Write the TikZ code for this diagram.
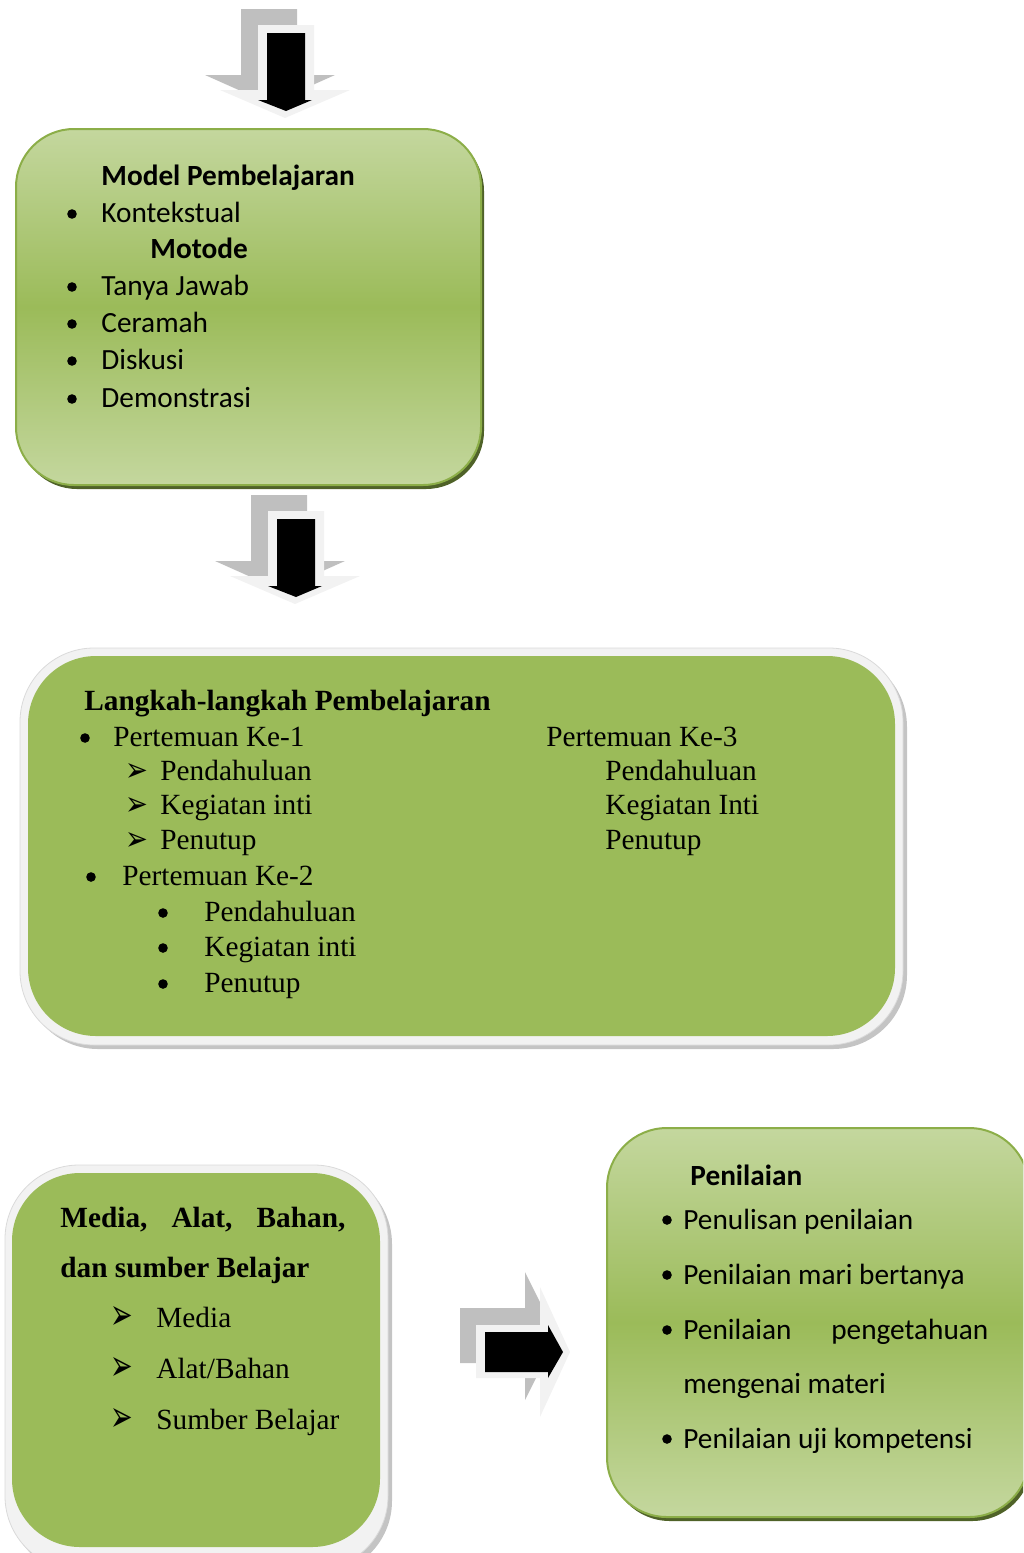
\documentclass[tikz,border=0pt]{standalone}
\usepackage{fontspec}
\setmainfont{Liberation Serif}
\newfontfamily\calibri{Carlito}
\newfontfamily\dejavu{DejaVu Sans}
\definecolor{gdark}{HTML}{9BBB59}
\definecolor{glight}{HTML}{C4D79E}
\definecolor{gedge}{HTML}{8CAE48}
\definecolor{gshadow}{HTML}{4F6228}
\definecolor{framefill}{HTML}{F2F2F2}
\definecolor{frameedge}{HTML}{DADADA}
\definecolor{fshadow}{HTML}{C4C4C4}
\definecolor{arrgray}{HTML}{BFBFBF}
\definecolor{arrwhite}{HTML}{F2F2F2}
\newcommand{\wingarrow}{\raisebox{0pt}[9pt][0pt]{\scalebox{1}[1.6]{➢}}}
\newcommand{\wingarrowS}{\raisebox{0pt}[8pt][0pt]{\scalebox{1.05}[1.3]{➢}}}
\begin{document}
\begin{tikzpicture}[x=0.5pt,y=-0.5pt,
  cal/.style={anchor=base west,inner sep=0pt,font=\calibri\fontsize{14.65pt}{17pt}\selectfont},
  calb/.style={anchor=base west,inner sep=0pt,font=\calibri\bfseries\fontsize{14.65pt}{17pt}\selectfont},
  tms/.style={anchor=base west,inner sep=0pt,font=\fontsize{14.65pt}{17pt}\selectfont},
  tmsb/.style={anchor=base west,inner sep=0pt,font=\bfseries\fontsize{14.65pt}{17pt}\selectfont},
  bulletdot/.style={circle,fill=black,inner sep=0pt,minimum size=4.8pt},
  arrhead/.style={anchor=base west,inner sep=0pt,font=\dejavu\fontsize{13.5pt}{16pt}\selectfont},
  arrheadS/.style={anchor=base west,inner sep=0pt,font=\dejavu\fontsize{13pt}{15pt}\selectfont},
  greenbox/.style={draw=gedge,line width=1pt,top color=glight,bottom color=glight,middle color=gdark},
  downarrow/.pic={
    \fill[arrgray] (241,9) -- (297,9) -- (297,75) -- (335,75) -- (270,104) -- (205,75) -- (241,75) -- cycle;
    \fill[arrwhite] (258,25) -- (314,25) -- (314,90) -- (350,90) -- (285,118) -- (220,90) -- (258,90) -- cycle;
    \fill[black] (267,33) -- (305,33) -- (305,100) -- (312,100) -- (286,111) -- (258,100) -- (267,100) -- cycle;
  }]
\useasboundingbox (0,0) rectangle (1023,1553);
\clip (0,0) rectangle (1023,1553);

% ---------- arrows ----------
\pic (arrowA) at (0,0) {downarrow};
\pic (arrowB) at (10,486) {downarrow};
\fill[arrgray] (460,1308) -- (525,1308) -- (525,1272) -- (557,1336) -- (525,1400) -- (525,1363) -- (460,1363) -- cycle;
\fill[arrwhite] (476,1325) -- (540,1325) -- (540,1287) -- (570,1352) -- (540,1417) -- (540,1378) -- (476,1378) -- cycle;
\fill[black] (485,1332) -- (548,1332) -- (548,1325) -- (563,1352) -- (548,1378) -- (548,1372) -- (485,1372) -- cycle;

% ---------- box 1 ----------
\fill[gshadow,rounded corners=29pt] (19,133) rectangle (484,489);
\path[greenbox,rounded corners=29pt] (16,129) rectangle (481,485);
\node[calb] (mp) at (101,185) {Model Pembelajaran};
\node[bulletdot] (b1a) at (72,214) {};
\node[cal] (t1a) at (101,222) {Kontekstual};
\node[calb] (mo) at (150,258) {Motode};
\node[bulletdot] (b1b) at (72,287) {};
\node[cal] (t1b) at (101,295) {Tanya Jawab};
\node[bulletdot] (b1c) at (72,324) {};
\node[cal] (t1c) at (101,332) {Ceramah};
\node[bulletdot] (b1d) at (72,361) {};
\node[cal] (t1d) at (101,369) {Diskusi};
\node[bulletdot] (b1e) at (72,399) {};
\node[cal] (t1e) at (101,407) {Demonstrasi};

% ---------- box 2 ----------
\fill[fshadow,rounded corners=37pt] (24,653) rectangle (907,1049);
\draw[frameedge,fill=framefill,rounded corners=37pt] (20,648) rectangle (903,1045);
\fill[gdark,rounded corners=34pt] (28,656) rectangle (895,1036);
\node[tmsb] (lk) at (84,710) {Langkah-langkah Pembelajaran};
\node[bulletdot] (b2a) at (85,738) {};
\node[tms] (p1) at (113,746) {Pertemuan Ke-1};
\node[arrheadS] (a2a) at (125,781) {\wingarrowS};
\node[tms] (p1a) at (160,780) {Pendahuluan};
\node[arrheadS] (a2b) at (125,815) {\wingarrowS};
\node[tms] (p1b) at (160,814) {Kegiatan inti};
\node[arrheadS] (a2c) at (125,850) {\wingarrowS};
\node[tms] (p1c) at (160,849) {Penutup};
\node[bulletdot] (b2b) at (91,877) {};
\node[tms] (p2) at (122,885) {Pertemuan Ke-2};
\node[bulletdot] (b2c) at (163,913) {};
\node[tms] (p2a) at (204,921) {Pendahuluan};
\node[bulletdot] (b2d) at (163,948) {};
\node[tms] (p2b) at (204,956) {Kegiatan inti};
\node[bulletdot] (b2e) at (163,984) {};
\node[tms] (p2c) at (204,992) {Penutup};
\node[tms] (p3) at (546,746) {Pertemuan Ke-3};
\node[tms] (p3a) at (605,780) {Pendahuluan};
\node[tms] (p3b) at (605,814) {Kegiatan Inti};
\node[tms] (p3c) at (605,849) {Penutup};

% ---------- box 3 ----------
\fill[fshadow,rounded corners=37pt] (9,1170) rectangle (392,1575);
\draw[frameedge,fill=framefill,rounded corners=37pt] (5,1165) rectangle (388,1570);
\fill[gdark,rounded corners=34pt] (12,1173) rectangle (380,1547);
\node[tmsb] (mab) at (60,1227) {\makebox[142.5pt][s]{Media, Alat, Bahan,}};
\node[tmsb] (dsb) at (60,1277) {dan sumber Belajar};
\node[arrhead] (a3a) at (110,1329) {\wingarrow};
\node[tms] (m3a) at (156,1327) {Media};
\node[arrhead] (a3b) at (110,1380) {\wingarrow};
\node[tms] (m3b) at (156,1378) {Alat/Bahan};
\node[arrhead] (a3c) at (110,1431) {\wingarrow};
\node[tms] (m3c) at (156,1429) {Sumber Belajar};

% ---------- box 4 ----------
\fill[gshadow,rounded corners=30pt] (610,1132) rectangle (1032,1521);
\path[greenbox,rounded corners=30pt] (607,1128) rectangle (1029,1517);
\node[calb] (pn) at (690,1185) {Penilaian};
\node[bulletdot] (b4a) at (667,1220) {};
\node[cal] (n4a) at (683,1229) {Penulisan penilaian};
\node[bulletdot] (b4b) at (667,1275) {};
\node[cal] (n4b) at (683,1284) {Penilaian mari bertanya};
\node[bulletdot] (b4c) at (667,1330) {};
\node[cal] (n4c) at (683,1339) {\makebox[152.5pt][s]{Penilaian pengetahuan}};
\node[cal] (n4d) at (683,1393) {mengenai materi};
\node[bulletdot] (b4e) at (667,1439) {};
\node[cal] (n4e) at (683,1448) {Penilaian uji kompetensi};
\end{tikzpicture}
\end{document}
